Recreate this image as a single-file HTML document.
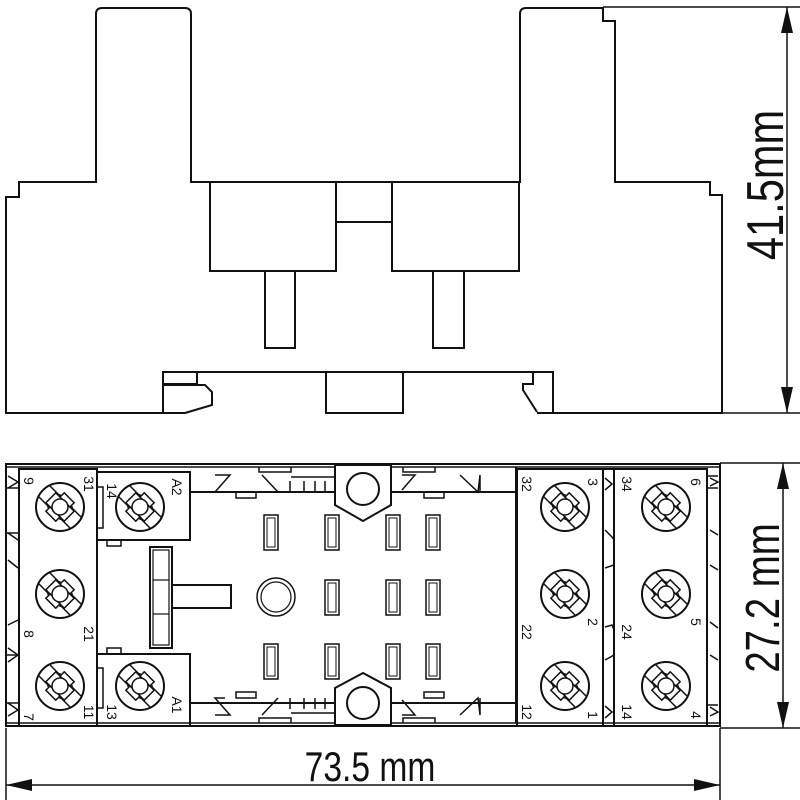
<!DOCTYPE html>
<html><head><meta charset="utf-8"><style>
html,body{margin:0;padding:0;background:#fff;}
svg{display:block}
text{font-family:"Liberation Sans",sans-serif;fill:#111}
</style></head><body>
<svg width="800" height="800" viewBox="0 0 800 800" xmlns="http://www.w3.org/2000/svg">
<defs>
<g id="scr">
<circle r="24" fill="#fff" stroke="#111" stroke-width="2"/>
<line x1="-21" y1="-10" x2="10" y2="21" stroke="#111" stroke-width="1.5"/>
<line x1="-10" y1="-21" x2="21" y2="10" stroke="#111" stroke-width="1.5"/>
<rect x="-7" y="-13" width="14" height="26" transform="rotate(45)" fill="#fff" stroke="#111" stroke-width="1.5"/>
<rect x="-13" y="-7" width="26" height="14" transform="rotate(45)" fill="#fff" stroke="#111" stroke-width="1.5"/>
<circle r="8" fill="#fff" stroke="#111" stroke-width="1.5"/>
<g stroke="#111" stroke-width="1.2">
<line x1="0" y1="-9" x2="0" y2="-13"/><line x1="0" y1="9" x2="0" y2="13"/>
<line x1="-9" y1="0" x2="-13" y2="0"/><line x1="9" y1="0" x2="13" y2="0"/>
</g>
</g>
</defs>
<g fill="none" stroke="#111" stroke-width="2">
<!-- top view outline -->
<path d="M185,413 L6,413 L6,197 L19,197 L19,182 L96,182 L96,14 Q96,8 102,8 L185,8 Q191,8 191,14 L191,182 L520,182 L520,14 Q520,8 526,8 L603,8 L603,21 L615,21 L615,182 L710,182 L710,195 L722,195 L722,413 L537,413"/>
<line x1="603" y1="7" x2="800" y2="7" stroke-width="1.5"/>
<line x1="722" y1="413" x2="800" y2="413" stroke-width="1.5"/>
<path d="M163,413 L163,372 L553,372 L553,413"/>
<rect x="163" y="372" width="34" height="12"/>
<path d="M163,385 L205,385 L212,392 L212,405 L185,413"/>
<rect x="326" y="372" width="77" height="41"/>
<path d="M533,373 L533,384 L523,384 L523,390 L537,412"/>
<rect x="210" y="182" width="126" height="89"/>
<rect x="336" y="182" width="56" height="40"/>
<rect x="392" y="182" width="127" height="89"/>
<rect x="265" y="271" width="30" height="77"/>
<rect x="433" y="271" width="31" height="77"/>
<!-- 41.5 dim -->
<line x1="787" y1="7" x2="787" y2="413" stroke-width="1.5"/>
</g>
<polygon points="787,7 781,33 793,33" fill="#111"/>
<polygon points="787,413 781,387 793,387" fill="#111"/>
<text transform="translate(783,185) rotate(-90) scale(0.8,1)" font-size="52" text-anchor="middle">41.5mm</text>

<!-- bottom view -->
<g fill="none" stroke="#111" stroke-width="2">
<rect x="6" y="464" width="714" height="262"/>
<line x1="6" y1="467" x2="720" y2="467" stroke-width="1.5"/>
<line x1="6" y1="723" x2="720" y2="723" stroke-width="1.5"/>
<line x1="720" y1="463" x2="800" y2="463" stroke-width="1.5"/>
<line x1="720" y1="728" x2="800" y2="728" stroke-width="1.5"/>
<line x1="6" y1="728" x2="6" y2="800" stroke-width="1.5"/>
<line x1="720" y1="728" x2="720" y2="800" stroke-width="1.5"/>
<!-- left blocks -->
<rect x="19" y="469" width="78" height="257"/>
<rect x="97" y="472" width="93" height="68"/>
<rect x="97" y="654" width="93" height="72"/>
<rect x="107" y="540" width="14" height="6" stroke-width="1.5"/>
<rect x="107" y="648" width="14" height="6" stroke-width="1.5"/>
<path d="M97,487 L103,487 L103,528 L97,528 M97,668 L103,668 L103,708 L97,708" stroke-width="1.5"/>
<g stroke-width="1.5">
<path d="M6,488 L19,488 M6,533 L19,533 M6,655 L19,655 M6,703 L19,703"/>
<path d="M8,476 L18,482 L8,488 M8,533 L18,540 M8,560 L18,568 M8,625 L18,620 M8,648 L18,655 L8,662 M8,703 L18,710 L8,716"/>
</g>
<!-- T bar -->
<rect x="150" y="547" width="22" height="101"/>
<rect x="153" y="550" width="16" height="95" stroke-width="1.2"/>
<line x1="153" y1="580" x2="169" y2="580" stroke-width="1.2"/>
<line x1="153" y1="614" x2="169" y2="614" stroke-width="1.2"/>
<rect x="172" y="585" width="59" height="23"/>
<!-- center -->
<line x1="190" y1="492" x2="516" y2="492"/>
<line x1="190" y1="703" x2="516" y2="703"/>
<line x1="516" y1="467" x2="516" y2="723"/>
<polygon points="335,465 391,465 391,505 363,521 335,505" fill="#fff"/>
<circle cx="363" cy="489" r="16"/>
<polygon points="335,725 391,725 391,688 363,673 335,688" fill="#fff"/>
<circle cx="363" cy="703" r="16"/>
<g stroke-width="1.5">
<path d="M259,467 L259,472 L291,472 L291,467 M403,467 L403,472 L435,472 L435,467"/>
<path d="M259,723 L259,718 L291,718 L291,723 M403,723 L403,718 L435,718 L435,723"/>
<path d="M215,475 L230,475 L215,492 L225,492 M262,475 L278,492 M291,477 L335,477 M290,481 L290,492 M304,481 L304,492 M315,481 L315,492 M325,481 L325,492"/>
<path d="M402,475 L415,475 L402,490 M460,475 L478,492 L480,475 L480,492"/>
<path d="M215,715 L230,715 L215,698 L225,698 M262,715 L278,698 M291,713 L335,713 M290,709 L290,698 M304,709 L304,698 M315,709 L315,698 M325,709 L325,698"/>
<path d="M402,715 L415,715 L402,700 M460,715 L478,698 L480,715 L480,698"/>
<rect x="236" y="492" width="20" height="6"/><rect x="424" y="492" width="20" height="6"/>
<rect x="236" y="692" width="20" height="6"/><rect x="424" y="692" width="20" height="6"/>
</g>
<g stroke-width="1.5">
<rect x="264" y="515" width="14" height="35"/><rect x="267" y="518" width="8" height="29" stroke-width="1"/>
<rect x="325" y="515" width="14" height="35"/><rect x="328" y="518" width="8" height="29" stroke-width="1"/>
<rect x="386" y="515" width="14" height="35"/><rect x="389" y="518" width="8" height="29" stroke-width="1"/>
<rect x="426" y="515" width="14" height="35"/><rect x="429" y="518" width="8" height="29" stroke-width="1"/>
<rect x="325" y="580" width="14" height="35"/><rect x="328" y="583" width="8" height="29" stroke-width="1"/>
<rect x="386" y="580" width="14" height="35"/><rect x="389" y="583" width="8" height="29" stroke-width="1"/>
<rect x="426" y="580" width="14" height="35"/><rect x="429" y="583" width="8" height="29" stroke-width="1"/>
<rect x="264" y="644" width="14" height="35"/><rect x="267" y="647" width="8" height="29" stroke-width="1"/>
<rect x="325" y="644" width="14" height="35"/><rect x="328" y="647" width="8" height="29" stroke-width="1"/>
<rect x="386" y="644" width="14" height="35"/><rect x="389" y="647" width="8" height="29" stroke-width="1"/>
<rect x="426" y="644" width="14" height="35"/><rect x="429" y="647" width="8" height="29" stroke-width="1"/>
<circle cx="276" cy="597" r="19"/><circle cx="276" cy="597" r="15" stroke-width="1.2"/>
</g>
<!-- right blocks -->
<rect x="517" y="469" width="86" height="257"/>
<rect x="614" y="469" width="93" height="257"/>
<line x1="603" y1="469" x2="614" y2="469"/>
<line x1="603" y1="726" x2="614" y2="726"/>
<g stroke-width="1.5">
<path d="M605,478 L612,484 L605,490 M605,530 L612,537 L614,540 L614,565 L605,568 M605,627 L612,625 L614,630 L614,655 L605,660 M605,706 L612,712 L605,718"/>
<path d="M707,476 L718,476 M707,488 L718,488 M710,478 L718,482 L710,486 M710,530 L718,535 M710,565 L718,570 M710,622 L718,628 M710,655 L718,660 M707,705 L718,705 M710,707 L718,712 L710,716"/>
</g>
</g>
<use href="#scr" x="60" y="507"/><use href="#scr" x="140" y="507"/>
<use href="#scr" x="60" y="594"/>
<use href="#scr" x="60" y="686"/><use href="#scr" x="140" y="686"/>
<use href="#scr" x="565" y="507"/><use href="#scr" x="666" y="507"/>
<use href="#scr" x="565" y="594"/><use href="#scr" x="666" y="594"/>
<use href="#scr" x="565" y="686"/><use href="#scr" x="666" y="686"/>
<g font-size="14">
<text transform="translate(24,481) rotate(90)" text-anchor="middle">9</text>
<text transform="translate(84,484) rotate(90)" text-anchor="middle">31</text>
<text transform="translate(107,491) rotate(90)" text-anchor="middle">14</text>
<text transform="translate(172,487) rotate(90)" text-anchor="middle">A2</text>
<text transform="translate(84,634) rotate(90)" text-anchor="middle">21</text>
<text transform="translate(24,634) rotate(90)" text-anchor="middle">8</text>
<text transform="translate(24,717) rotate(90)" text-anchor="middle">7</text>
<text transform="translate(84,712) rotate(90)" text-anchor="middle">11</text>
<text transform="translate(107,712) rotate(90)" text-anchor="middle">13</text>
<text transform="translate(172,705) rotate(90)" text-anchor="middle">A1</text>
<text transform="translate(522,484) rotate(90)" text-anchor="middle">32</text>
<text transform="translate(588,482) rotate(90)" text-anchor="middle">3</text>
<text transform="translate(622,484) rotate(90)" text-anchor="middle">34</text>
<text transform="translate(691,482) rotate(90)" text-anchor="middle">6</text>
<text transform="translate(522,632) rotate(90)" text-anchor="middle">22</text>
<text transform="translate(588,622) rotate(90)" text-anchor="middle">2</text>
<text transform="translate(622,632) rotate(90)" text-anchor="middle">24</text>
<text transform="translate(691,622) rotate(90)" text-anchor="middle">5</text>
<text transform="translate(522,712) rotate(90)" text-anchor="middle">12</text>
<text transform="translate(588,715) rotate(90)" text-anchor="middle">1</text>
<text transform="translate(622,712) rotate(90)" text-anchor="middle">14</text>
<text transform="translate(691,715) rotate(90)" text-anchor="middle">4</text>
</g>
<!-- 27.2 dim -->
<line x1="783" y1="463" x2="783" y2="728" stroke="#111" stroke-width="1.5"/>
<polygon points="783,463 777,489 789,489" fill="#111"/>
<polygon points="783,728 777,702 789,702" fill="#111"/>
<text transform="translate(779,598) rotate(-90) scale(0.8,1)" font-size="48" text-anchor="middle">27.2 mm</text>
<!-- 73.5 dim -->
<line x1="6" y1="785" x2="720" y2="785" stroke="#111" stroke-width="1.5"/>
<polygon points="6,785 32,779 32,791" fill="#111"/>
<polygon points="720,785 694,779 694,791" fill="#111"/>
<text transform="translate(370,781) scale(0.8,1)" font-size="42" text-anchor="middle">73.5 mm</text>
</svg>
</body></html>
